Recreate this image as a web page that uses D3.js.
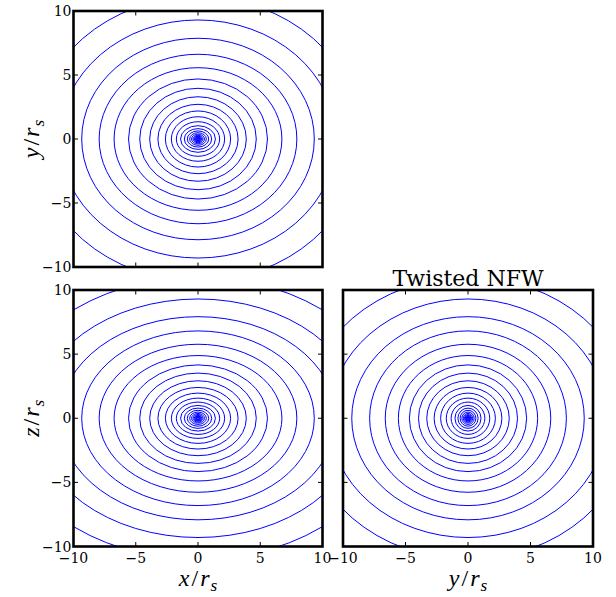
<!DOCTYPE html>
<html>
<head>
<meta charset="utf-8">
<script src="https://cdn.jsdelivr.net/npm/d3@7"></script>
<style>
  body { margin: 0; background: #fff; }
  text { font-family: "DejaVu Serif", serif; fill: #000; }
  text.math { font-family: "Liberation Serif", "Times New Roman", serif; }
</style>
</head>
<body>
<svg id="fig" width="616" height="597"></svg>
<script>
// semi-axes (in r_s) of the iso-density contours, outer -> inner, one entry per level
const axisX = [18.5, 15.6, 13.1, 11.1, 9.34, 7.94, 6.74, 5.58, 4.68, 3.88, 3.22, 2.62, 2.14, 1.74, 1.40, 1.10, 0.86, 0.67, 0.52, 0.40, 0.31, 0.24, 0.18, 0.13, 0.09];
const axisY = [15.6, 13.1, 11.1, 9.30, 7.87, 6.62, 5.57, 4.69, 3.96, 3.30, 2.71, 2.19, 1.74, 1.35, 1.04, 0.81, 0.63, 0.49, 0.38, 0.29, 0.22, 0.17, 0.13, 0.09, 0.07];
const axisZ = [13.3, 11.0, 9.30, 7.92, 6.81, 5.77, 4.89, 4.16, 3.52, 2.92, 2.40, 1.96, 1.57, 1.26, 1.00, 0.79, 0.62, 0.48, 0.37, 0.29, 0.22, 0.17, 0.13, 0.09, 0.07];

const tickValues = [-10, -5, 0, 5, 10];
const tickLabels = ["\u221210", "\u22125", "0", "5", "10"];
const title = "Twisted NFW";

const svg = d3.select("#fig");
const tickLen = 4.5;

// one panel per projection
const panels = [
  { id: "xy", box: [73.5, 11, 322.5, 267], h: axisX, v: axisY, xTicks: false, yTicks: true, yLabel: "y" },
  { id: "xz", box: [73.5, 290, 322.5, 546.5], h: axisX, v: axisZ, xTicks: true, yTicks: true, xLabel: "x", yLabel: "z" },
  { id: "yz", box: [343, 290, 593, 546.5], h: axisY, v: axisZ, xTicks: true, yTicks: false, xLabel: "y", title: title }
];

// label like  x/r_s  (math italic)
function mathLabel(sel, v) {
  sel.attr("class", "math");
  sel.append("tspan").attr("font-style", "italic").text(v);
  sel.append("tspan").attr("dx", 2).text("/");
  sel.append("tspan").attr("dx", 2).attr("font-style", "italic").text("r");
  sel.append("tspan").attr("dx", 1).attr("font-style", "italic").attr("font-size", "0.72em").attr("dy", "0.3em").text("s");
}

panels.forEach(p => {
  const [l, t, r, b] = p.box;
  const xs = d3.scaleLinear().domain([-10, 10]).range([l, r]);
  const ys = d3.scaleLinear().domain([-10, 10]).range([b, t]);
  const g = svg.append("g");

  g.append("clipPath").attr("id", "clip-" + p.id)
    .append("rect").attr("x", l).attr("y", t).attr("width", r - l).attr("height", b - t);

  const levels = d3.range(p.h.length).map(i => ({ a: p.h[i], b: p.v[i] }));
  g.append("g").attr("clip-path", `url(#clip-${p.id})`)
    .selectAll("ellipse").data(levels).join("ellipse")
    .attr("cx", xs(0)).attr("cy", ys(0))
    .attr("rx", d => xs(d.a) - xs(0))
    .attr("ry", d => ys(0) - ys(d.b))
    .attr("fill", "none").attr("stroke", "#0000ff").attr("stroke-width", 1);

  // ticks on all four sides, pointing inward
  const tk = g.append("g").attr("stroke", "#000").attr("stroke-width", 1);
  tickValues.forEach(v => {
    tk.append("line").attr("x1", xs(v)).attr("x2", xs(v)).attr("y1", b).attr("y2", b - tickLen);
    tk.append("line").attr("x1", xs(v)).attr("x2", xs(v)).attr("y1", t).attr("y2", t + tickLen);
    tk.append("line").attr("y1", ys(v)).attr("y2", ys(v)).attr("x1", l).attr("x2", l + tickLen);
    tk.append("line").attr("y1", ys(v)).attr("y2", ys(v)).attr("x1", r).attr("x2", r - tickLen);
  });

  g.append("rect").attr("x", l).attr("y", t).attr("width", r - l).attr("height", b - t)
    .attr("fill", "none").attr("stroke", "#000").attr("stroke-width", 2.6);

  if (p.xTicks) {
    g.selectAll("text.xt").data(tickValues).join("text")
      .attr("class", "xt")
      .attr("x", d => xs(d)).attr("y", b + 16)
      .attr("text-anchor", "middle").attr("font-size", 14)
      .text((d, i) => tickLabels[i]);
  }
  if (p.yTicks) {
    g.selectAll("text.yt").data(tickValues).join("text")
      .attr("class", "yt")
      .attr("x", l - 2).attr("y", d => ys(d) + 5)
      .attr("text-anchor", "end").attr("font-size", 14)
      .text((d, i) => tickLabels[i]);
  }
  if (p.xLabel) {
    g.append("text").attr("x", (l + r) / 2).attr("y", b + 39)
      .attr("text-anchor", "middle").attr("font-size", 24)
      .call(mathLabel, p.xLabel);
  }
  if (p.yLabel) {
    g.append("text")
      .attr("transform", `translate(${l - 35},${(t + b) / 2}) rotate(-90)`)
      .attr("text-anchor", "middle").attr("font-size", 24)
      .call(mathLabel, p.yLabel);
  }
  if (p.title) {
    g.append("text").attr("x", (l + r) / 2).attr("y", t - 4)
      .attr("text-anchor", "middle").attr("font-size", 22)
      .text(p.title);
  }
});
</script>
</body>
</html>
